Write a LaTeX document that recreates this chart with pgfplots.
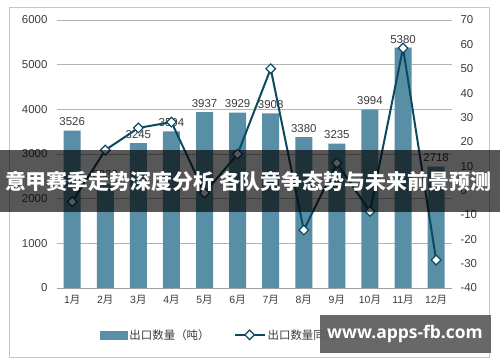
\documentclass[border=0pt]{standalone}
\usepackage{fontspec}
\setmainfont{Liberation Sans}
\newfontfamily\cjk{Noto Sans CJK SC}
\newfontfamily\wm{Open Sans}
\usepackage{pgfplots}
\pgfplotsset{compat=1.18}
\definecolor{barcol}{RGB}{88,142,166}
\definecolor{linecol}{RGB}{12,74,96}
\definecolor{gridcol}{RGB}{180,180,180}
\definecolor{labcol}{RGB}{60,60,60}
\begin{document}
\begin{tikzpicture}
\useasboundingbox (0,0) rectangle (500bp,362bp);
\fill[white] (0,0) rectangle (500bp,362bp);
\draw[gray!45] (9bp,5bp) rectangle (489bp,355bp);
\begin{axis}[
  at={(57bp,74bp)}, anchor=south west,
  scale only axis, width=395bp, height=268bp,
  xmin=-0.46, xmax=11.48, ymin=0, ymax=6000,
  ytick={1000,2000,3000,4000,5000,6000},
  extra y ticks={0},
  extra y tick style={grid style={gray!75, line width=0.8bp}},
  ymajorgrids, grid style={gridcol, line width=0.8bp},
  axis line style={draw=none},
  major tick length=0pt,
  xtick={0,...,11},
  xticklabels={1{\cjk 月},2{\cjk 月},3{\cjk 月},4{\cjk 月},5{\cjk 月},6{\cjk 月},7{\cjk 月},8{\cjk 月},9{\cjk 月},10{\cjk 月},11{\cjk 月},12{\cjk 月}},
  x tick label style={font=\fontsize{10.5}{12}\selectfont, text=labcol, yshift=-4bp},
  y tick label style={font=\fontsize{11.5}{13}\selectfont, text=labcol, xshift=-6bp},
  /pgf/number format/assume math mode=true,
  /pgf/number format/1000 sep={},
  scaled y ticks=false,
  ybar, bar width=17bp,
  nodes near coords,
  every node near coord/.append style={font=\fontsize{11.5}{13}\selectfont, text=labcol, yshift=1bp, /pgf/number format/1000 sep={}},
]
\addplot[fill=barcol, draw=none] coordinates {
(0,3526) (1,2338) (2,3245) (3,3504) (4,3937) (5,3929) (6,3908) (7,3380) (8,3235) (9,3994) (10,5380) (11,2718)};
\end{axis}
\begin{axis}[
  at={(57bp,74bp)}, anchor=south west,
  scale only axis, width=395bp, height=268bp,
  xmin=-0.46, xmax=11.48, ymin=-40, ymax=70,
  ytick={-40,-30,...,70},
  axis y line*=right, axis x line=none,
  axis line style={draw=none},
  major tick length=0pt,
  y tick label style={font=\fontsize{11.5}{13}\selectfont, text=labcol, xshift=5bp},
  /pgf/number format/assume math mode=true,
  legend style={at={(0.453,-0.175)}, anchor=center, draw=none, fill=none,
    legend columns=2, font=\cjk\fontsize{11.5}{13}\selectfont, text=labcol,
    /tikz/every even column/.append style={column sep=22bp},
    legend cell align=left},
]
\addlegendimage{legend image code/.code={\fill[barcol] (0bp,-4bp) rectangle (27bp,4bp);}}
\addlegendentry{出口数量（吨）}
\addplot[linecol, line width=2bp, mark=square*, mark size=3.4bp,
  mark options={fill=white, draw=linecol, line width=1.2bp, rotate=45},
  legend image code/.code={\draw[mark repeat=2,mark phase=2] plot coordinates {(0bp,0bp) (15bp,0bp) (30bp,0bp)};}]
coordinates {
(0,-4.6) (1,16.6) (2,25.7) (3,28.1) (4,-1.0) (5,15.0) (6,50.0) (7,-16.2) (8,11.3) (9,-8.6) (10,58.5) (11,-28.5)};
\addlegendentry{出口数量同比（\%）}
\end{axis}
\fill[black, opacity=0.66] (0bp,150bp) rectangle (500bp,212bp);
\node[text=white, font=\cjk\bfseries\fontsize{21}{24}\selectfont] at (248bp,181bp) {意甲赛季走势深度分析 各队竞争态势与未来前景预测};
\fill[black!64, opacity=0.92] (320bp,9bp) rectangle (491bp,47bp);
\node[text=white, font=\wm\bfseries\fontsize{17.5}{20}\selectfont] at (405bp,28bp) {www.apps-fb.com};
\end{tikzpicture}
\end{document}
